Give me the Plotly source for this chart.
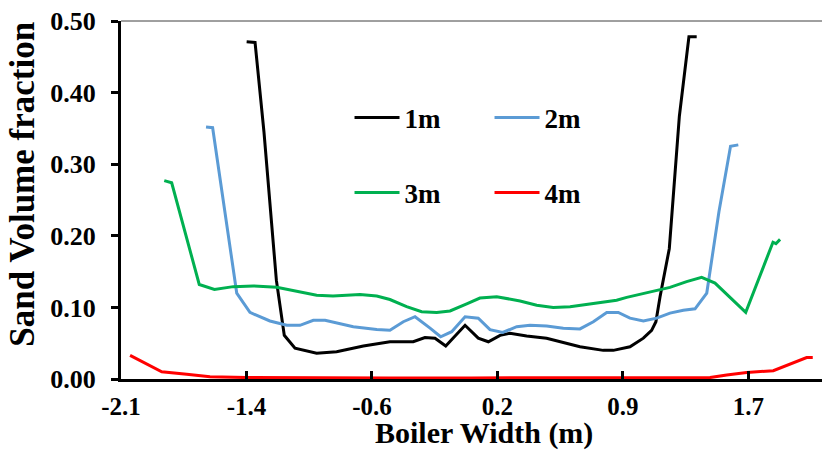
import plotly.graph_objects as go

# ---- data (x in m, y = sand volume fraction) ----
x_1m = [-1.359, -1.308, -1.254, -1.181, -1.179, -1.131, -1.066, -0.935, -0.814, -0.652, -0.491, -0.350,
        -0.279, -0.218, -0.153, -0.036, 0.044, 0.105, 0.176, 0.236, 0.337, 0.458, 0.559, 0.660, 0.801,
        0.862, 0.963, 1.044, 1.094, 1.120, 1.145, 1.201, 1.262, 1.320, 1.367]
y_1m = [0.471, 0.470, 0.345, 0.144, 0.138, 0.061, 0.043, 0.036, 0.038, 0.046, 0.052, 0.052,
        0.058, 0.057, 0.046, 0.075, 0.057, 0.052, 0.061, 0.064, 0.060, 0.057, 0.051, 0.045, 0.040,
        0.040, 0.045, 0.057, 0.068, 0.080, 0.115, 0.182, 0.367, 0.478, 0.478]

x_2m = [-1.605, -1.565, -1.419, -1.339, -1.218, -1.116, -1.036, -0.955, -0.884, -0.713, -0.571, -0.491,
        -0.410, -0.339, -0.248, -0.184, -0.117, -0.036, 0.044, 0.115, 0.192, 0.277, 0.357, 0.458, 0.559,
        0.660, 0.741, 0.822, 0.892, 0.963, 1.044, 1.125, 1.205, 1.286, 1.357, 1.428, 1.502, 1.572, 1.619]
y_2m = [0.352, 0.351, 0.120, 0.093, 0.081, 0.075, 0.075, 0.082, 0.082, 0.073, 0.069, 0.068,
        0.080, 0.087, 0.071, 0.059, 0.066, 0.087, 0.085, 0.069, 0.065, 0.073, 0.075, 0.074, 0.071,
        0.070, 0.080, 0.093, 0.093, 0.085, 0.081, 0.085, 0.092, 0.096, 0.098, 0.120, 0.234, 0.325, 0.327]

x_3m = [-1.858, -1.813, -1.646, -1.554, -1.440, -1.319, -1.177, -1.056, -0.935, -0.836, -0.672, -0.571,
        -0.491, -0.390, -0.299, -0.208, -0.127, -0.026, 0.054, 0.156, 0.297, 0.398, 0.498, 0.600, 0.741,
        0.882, 0.943, 1.084, 1.205, 1.306, 1.397, 1.478, 1.579, 1.664, 1.829, 1.847, 1.872]
y_3m = [0.277, 0.274, 0.132, 0.125, 0.129, 0.130, 0.128, 0.122, 0.117, 0.116, 0.118, 0.116,
        0.111, 0.101, 0.094, 0.093, 0.095, 0.105, 0.113, 0.115, 0.109, 0.103, 0.100, 0.101, 0.106,
        0.110, 0.114, 0.121, 0.128, 0.136, 0.142, 0.134, 0.111, 0.093, 0.191, 0.189, 0.195]

x_4m = [-2.065, -1.873, -1.722, -1.581, -1.359, -1.0, -0.5, 0.0, 0.5, 1.0, 1.448, 1.549, 1.670, 1.831,
        1.922, 2.033, 2.070]
y_4m = [0.033, 0.010, 0.0066, 0.003, 0.002, 0.0015, 0.0015, 0.0015, 0.0015, 0.0015, 0.002, 0.0056, 0.009,
        0.0116, 0.0196, 0.030, 0.030]

x_tick_vals = [-2.12, -1.36, -0.60, 0.16, 0.92, 1.68]
x_tick_text = ["-2.1", "-1.4", "-0.6", "0.2", "0.9", "1.7"]
y_tick_vals = [0.0, 0.1, 0.2, 0.3, 0.4, 0.5]
y_tick_text = ["0.00", "0.10", "0.20", "0.30", "0.40", "0.50"]

FONT = "Liberation Serif"

fig = go.Figure()
series = [
    ("1m", x_1m, y_1m, "#000000", "legend"),
    ("2m", x_2m, y_2m, "#5B9BD5", "legend"),
    ("3m", x_3m, y_3m, "#00B050", "legend2"),
    ("4m", x_4m, y_4m, "#FF0000", "legend2"),
]
for name, xs, ys, col, lg in series:
    fig.add_trace(go.Scatter(x=xs, y=ys, name=name, mode="lines",
                             line=dict(color=col, width=3), legend=lg))

legend_common = dict(orientation="h", bgcolor="rgba(0,0,0,0)",
                     font=dict(family=FONT, size=27, color="#000000", weight="bold"),
                     entrywidth=80, entrywidthmode="pixels", xanchor="left", yanchor="middle",
                     itemwidth=45, tracegroupgap=0)

fig.update_layout(
    template="none",
    width=827, height=455,
    margin=dict(l=121, r=5, t=21, b=76, autoexpand=False),
    paper_bgcolor="white", plot_bgcolor="white",
    font=dict(family=FONT, size=25, color="#000000", weight="bold"),
    showlegend=True,
    legend=dict(x=0.326, y=0.729, **legend_common),
    legend2=dict(x=0.326, y=0.52, **legend_common),
    xaxis=dict(range=[-2.12, 2.126], tickvals=x_tick_vals, ticktext=x_tick_text, automargin=False,
               showgrid=False, zeroline=False, showline=True, linecolor="#000000", linewidth=3,
               ticks="inside", ticklen=8, tickwidth=2.5, tickcolor="#000000",
               tickfont=dict(family=FONT, size=25, color="#000000", weight="bold"),
               ticklabelstandoff=3),
    yaxis=dict(range=[0, 0.5], tickvals=y_tick_vals, ticktext=y_tick_text, automargin=False,
               showgrid=False, zeroline=False, showline=True, linecolor="#000000", linewidth=3,
               ticks="outside", ticklen=7, tickwidth=2.5, tickcolor="#000000",
               tickfont=dict(family=FONT, size=26, color="#000000", weight="bold"),
               ticklabelstandoff=10),
    shapes=[dict(type="line", xref="paper", yref="paper", x0=0, x1=1, y0=1, y1=1,
                 line=dict(color="#404040", width=1))],
    annotations=[
        dict(text="Boiler Width (m)", xref="paper", yref="paper", x=(484 - 121) / 701, y=-0.205,
             xanchor="center", yanchor="bottom", showarrow=False,
             font=dict(family=FONT, size=30, color="#000000", weight="bold")),
        dict(text="Sand Volume fraction", xref="paper", yref="paper", x=-0.141, y=(379 - 184.5) / 358,
             xanchor="center", yanchor="middle", textangle=-90, showarrow=False,
             font=dict(family=FONT, size=35, color="#000000", weight="bold")),
    ],
)

fig.write_html("out.html", config={"displayModeBar": False},
               post_script="document.body.style.margin='0';document.body.style.padding='0';")
